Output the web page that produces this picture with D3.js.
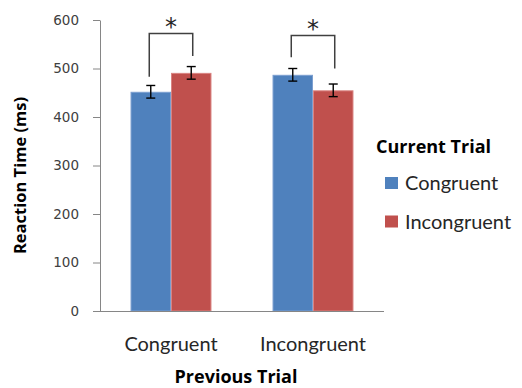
<!DOCTYPE html>
<html><head><meta charset="utf-8">
<script src="https://cdn.jsdelivr.net/npm/d3@7"></script>
<style>body{margin:0;background:#fff}svg{display:block}text{font-family:Lato,"Open Sans",sans-serif}</style>
</head><body>
<svg id="c" width="522" height="388"></svg>
<script>
const categories = ["Congruent", "Incongruent"];
const series = ["Congruent", "Incongruent"];
const seriesColors = ["#4F81BD", "#C0504D"];
const seriesEdges = ["#7C9FD0", "#D98381"];
const valuesCongruent = [452, 487];
const valuesIncongruent = [491, 455];
const errorsCongruent = [13, 13];
const errorsIncongruent = [13, 13];
const yTicks = [0, 100, 200, 300, 400, 500, 600];
// significance brackets: [left end, right end, top] in ms
const brackets = [[483, 526, 572], [523, 500, 568]];

(function () {
const svg = d3.select("#c");
const pL = 100, pR = 384, pT = 20, pB = 311;
const y = d3.scaleLinear().domain([0, 600]).range([pB, pT]);
const x0 = d3.scaleBand().domain(categories).range([pL, pR]).paddingInner(0.43).paddingOuter(0.215);
const x1 = d3.scaleBand().domain(series).range([0, x0.bandwidth()]);
const color = d3.scaleOrdinal().domain(series).range(seriesColors);
const edge = d3.scaleOrdinal().domain(series).range(seriesEdges);

const rows = categories.map((c, i) => ({
  cat: c,
  vals: [
    {s: series[0], v: valuesCongruent[i], e: errorsCongruent[i]},
    {s: series[1], v: valuesIncongruent[i], e: errorsIncongruent[i]}
  ]
}));

// y axis
const yAxis = svg.append("g").attr("transform", `translate(${pL},0)`)
  .call(d3.axisLeft(y).tickValues(yTicks).tickSize(7).tickSizeOuter(0).tickPadding(14));
yAxis.select(".domain").attr("stroke", "#868686");
yAxis.selectAll(".tick line").attr("stroke", "#868686");
yAxis.selectAll("text").attr("fill", "#404040").style("font-size", "13.5px").style("font-family", "'DejaVu Sans', sans-serif");

// bars
const g = svg.append("g");
const grp = g.selectAll("g.grp").data(rows).join("g").attr("class", "grp")
  .attr("transform", d => `translate(${x0(d.cat)},0)`);
grp.selectAll("rect").data(d => d.vals).join("rect")
  .attr("x", d => x1(d.s) + 0.5).attr("width", x1.bandwidth() - 1)
  .attr("y", d => y(d.v) + 0.5).attr("height", d => y(0) - y(d.v) - 0.5)
  .attr("fill", d => color(d.s)).attr("stroke", d => edge(d.s)).attr("stroke-width", 1);

// error bars
const eb = grp.selectAll("g.eb").data(d => d.vals).join("g").attr("class", "eb")
  .attr("stroke", "#000").attr("stroke-width", 1.4);
eb.append("line").attr("x1", d => x1(d.s) + x1.bandwidth()/2).attr("x2", d => x1(d.s) + x1.bandwidth()/2)
  .attr("y1", d => y(d.v - d.e)).attr("y2", d => y(d.v + d.e));
eb.append("line").attr("x1", d => x1(d.s) + x1.bandwidth()/2 - 4.5).attr("x2", d => x1(d.s) + x1.bandwidth()/2 + 4.5)
  .attr("y1", d => y(d.v - d.e)).attr("y2", d => y(d.v - d.e));
eb.append("line").attr("x1", d => x1(d.s) + x1.bandwidth()/2 - 4.5).attr("x2", d => x1(d.s) + x1.bandwidth()/2 + 4.5)
  .attr("y1", d => y(d.v + d.e)).attr("y2", d => y(d.v + d.e));

// x axis
const xAxis = svg.append("g").attr("transform", `translate(0,${pB})`)
  .call(d3.axisBottom(x0).tickSize(0).tickSizeOuter(0).tickPadding(26));
xAxis.select(".domain").attr("stroke", "#868686").attr("d", `M${pL - 7},0.5H${pR}`);
xAxis.selectAll("text").attr("fill", "#262626").style("font-size", "20px").style("font-family", "Lato, sans-serif");

// brackets
const bx = categories.map(c => [x0(c) + x1(series[0]) + x1.bandwidth()/2 - 1.5, x0(c) + x1(series[1]) + x1.bandwidth()/2 + 1.5]);
svg.append("g").selectAll("path").data(brackets).join("path")
  .attr("fill", "none").attr("stroke", "#404040").attr("stroke-width", 1.5)
  .attr("d", (b, i) => `M${bx[i][0]},${y(b[0])}V${y(b[2])}H${bx[i][1]}V${y(b[1])}`);
svg.append("g").selectAll("text").data(brackets).join("text")
  .attr("x", (b, i) => (bx[i][0] + bx[i][1]) / 2).attr("y", b => y(b[2]) + 1)
  .attr("text-anchor", "middle").attr("fill", "#262626")
  .style("font-size", "24px").style("font-family", "'DejaVu Sans', sans-serif").text("*");

// axis titles
svg.append("text").attr("transform", `translate(26,${(pT + pB)/2 + 10}) rotate(-90)`)
  .attr("text-anchor", "middle").attr("font-weight", "bold").attr("fill", "#000")
  .style("font-size", "16.5px").style("font-family", "'Open Sans', sans-serif")
  .text("Reaction Time (ms)");
svg.append("text").attr("x", 236).attr("y", 383)
  .attr("text-anchor", "middle").attr("font-weight", "bold").attr("fill", "#000")
  .style("font-size", "18px").style("font-family", "'Open Sans', sans-serif")
  .text("Previous Trial");

// legend
const lg = svg.append("g");
lg.append("text").attr("x", 376).attr("y", 153).attr("font-weight", "bold").attr("fill", "#000")
  .style("font-size", "18px").style("font-family", "'Open Sans', sans-serif").text("Current Trial");
const li = lg.selectAll("g.li").data(series).join("g").attr("class", "li")
  .attr("transform", (d, i) => `translate(385,${177 + i * 38.5})`);
li.append("rect").attr("width", 13).attr("height", 12).attr("fill", d => color(d));
li.append("text").attr("x", 20).attr("y", 13).attr("fill", "#262626").style("font-size", "20px").text(d => d);
})();
</script>
</body></html>
